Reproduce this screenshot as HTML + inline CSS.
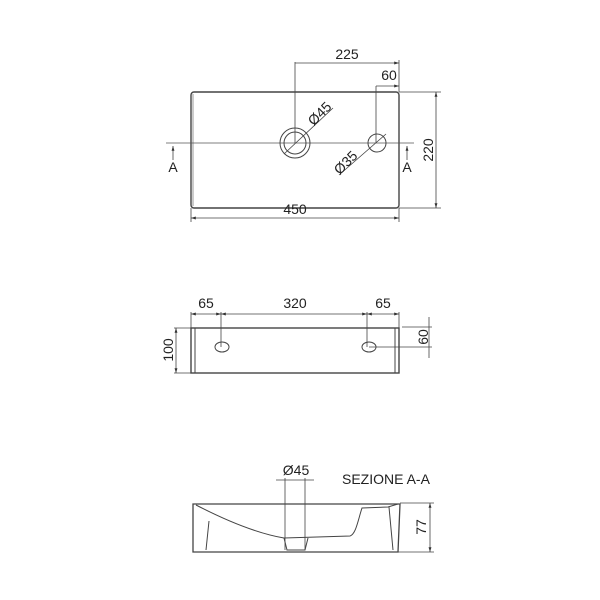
<!DOCTYPE html>
<html><head><style>body{margin:0;background:#fff}svg{display:block}text{font-family:"Liberation Sans",sans-serif;fill:#222}</style></head><body>
<svg width="600" height="600" viewBox="0 0 600 600">
<defs><marker id="a" viewBox="0 0 10 10" refX="10" refY="5" markerWidth="6" markerHeight="6" orient="auto-start-reverse"><path d="M0,2 L10,5 L0,8z" fill="#333"/></marker></defs>
<g stroke="#444" fill="none" stroke-width="1">
<rect x="191" y="92" width="208" height="116" rx="3" stroke-width="1.4"/>
<line x1="193" y1="94" x2="193" y2="206" stroke="#999"/>
<line x1="166" y1="143" x2="414" y2="143" stroke="#555" stroke-width="0.8"/>
<circle cx="295" cy="143" r="15"/><circle cx="295" cy="143" r="11"/>
<circle cx="377" cy="143" r="9"/>
<line x1="295" y1="62" x2="295" y2="143" stroke-width="0.8"/>
<line x1="295" y1="63" x2="399" y2="63" stroke-width="0.8" marker-end="url(#a)"/>
<line x1="399" y1="60" x2="399" y2="92" stroke-width="0.8"/>
<line x1="376" y1="86" x2="376" y2="143" stroke-width="0.8"/>
<line x1="376" y1="86" x2="399" y2="86" stroke-width="0.8" marker-end="url(#a)"/>
<line x1="399" y1="92" x2="441" y2="92" stroke-width="0.8"/>
<line x1="399" y1="208" x2="441" y2="208" stroke-width="0.8"/>
<line x1="436" y1="92" x2="436" y2="208" stroke-width="0.8" marker-start="url(#a)" marker-end="url(#a)"/>
<line x1="191" y1="208" x2="191" y2="222" stroke-width="0.8"/>
<line x1="399" y1="208" x2="399" y2="222" stroke-width="0.8"/>
<line x1="191" y1="218" x2="399" y2="218" stroke-width="0.8" marker-start="url(#a)" marker-end="url(#a)"/>
<line x1="284" y1="154" x2="333" y2="108" stroke-width="0.8"/>
<line x1="339" y1="175" x2="386" y2="134" stroke-width="0.8"/>
<line x1="173" y1="160" x2="173" y2="146" stroke-width="0.8" marker-end="url(#a)"/>
<line x1="407" y1="160" x2="407" y2="146" stroke-width="0.8" marker-end="url(#a)"/>
<rect x="191" y="328" width="208" height="45" stroke-width="1.4"/>
<line x1="195" y1="328" x2="195" y2="373"/><line x1="395" y1="328" x2="395" y2="373"/>
<ellipse cx="222" cy="347" rx="7" ry="5"/><ellipse cx="369" cy="347" rx="7" ry="5"/>
<line x1="191" y1="312" x2="191" y2="328" stroke-width="0.8"/>
<line x1="399" y1="312" x2="399" y2="328" stroke-width="0.8"/>
<line x1="221" y1="312" x2="221" y2="347" stroke-width="0.8"/>
<line x1="367" y1="312" x2="367" y2="347" stroke-width="0.8"/>
<line x1="191" y1="314" x2="221" y2="314" stroke-width="0.8" marker-start="url(#a)" marker-end="url(#a)"/>
<line x1="221" y1="314" x2="367" y2="314" stroke-width="0.8" marker-start="url(#a)" marker-end="url(#a)"/>
<line x1="367" y1="314" x2="399" y2="314" stroke-width="0.8" marker-start="url(#a)" marker-end="url(#a)"/>
<line x1="174" y1="328" x2="191" y2="328" stroke-width="0.8"/>
<line x1="174" y1="373" x2="191" y2="373" stroke-width="0.8"/>
<line x1="176" y1="328" x2="176" y2="373" stroke-width="0.8" marker-start="url(#a)" marker-end="url(#a)"/>
<line x1="402" y1="327" x2="432" y2="327" stroke-width="0.8"/>
<line x1="369" y1="347" x2="432" y2="347" stroke-width="0.8"/>
<line x1="429" y1="317" x2="429" y2="358" stroke-width="0.8"/>
<path d="M193,504 L400,504 L398,552 L193,552 Z" stroke-width="1.3"/>
<path d="M196,505 C225,520 255,533 284,538 L350,536 C356,534 358,520 362,508 L388,507 L398,504" />
<path d="M209,521 L206,550"/>
<path d="M389,507 L393,550"/>
<path d="M284,538 L287,550 L305,550 L308,538"/>
<line x1="285" y1="478" x2="285" y2="550" stroke-width="0.8"/>
<line x1="305" y1="478" x2="305" y2="550" stroke-width="0.8"/>
<line x1="276" y1="480" x2="314" y2="480" stroke-width="0.8"/>
<line x1="400" y1="503" x2="434" y2="503" stroke-width="0.8"/>
<line x1="398" y1="552" x2="434" y2="552" stroke-width="0.8"/>
<line x1="430" y1="503" x2="430" y2="552" stroke-width="0.8" marker-start="url(#a)" marker-end="url(#a)"/>
</g>
<g font-size="14">
<text x="347" y="59" text-anchor="middle">225</text>
<text x="389" y="80" text-anchor="middle">60</text>
<text x="295" y="214" text-anchor="middle">450</text>
<text transform="translate(433,150) rotate(-90)" text-anchor="middle">220</text>
<text transform="translate(323,117) rotate(-45)" text-anchor="middle">Ø45</text>
<text transform="translate(349,166) rotate(-45)" text-anchor="middle">Ø35</text>
<text x="173" y="172" text-anchor="middle">A</text>
<text x="407" y="172" text-anchor="middle">A</text>
<text x="206" y="308" text-anchor="middle">65</text>
<text x="295" y="308" text-anchor="middle">320</text>
<text x="383" y="308" text-anchor="middle">65</text>
<text transform="translate(173,350) rotate(-90)" text-anchor="middle">100</text>
<text transform="translate(428,337) rotate(-90)" text-anchor="middle">60</text>
<text x="296" y="475" text-anchor="middle">Ø45</text>
<text x="342" y="484">SEZIONE A-A</text>
<text transform="translate(426,527) rotate(-90)" text-anchor="middle">77</text>
</g>
</svg>
</body></html>
